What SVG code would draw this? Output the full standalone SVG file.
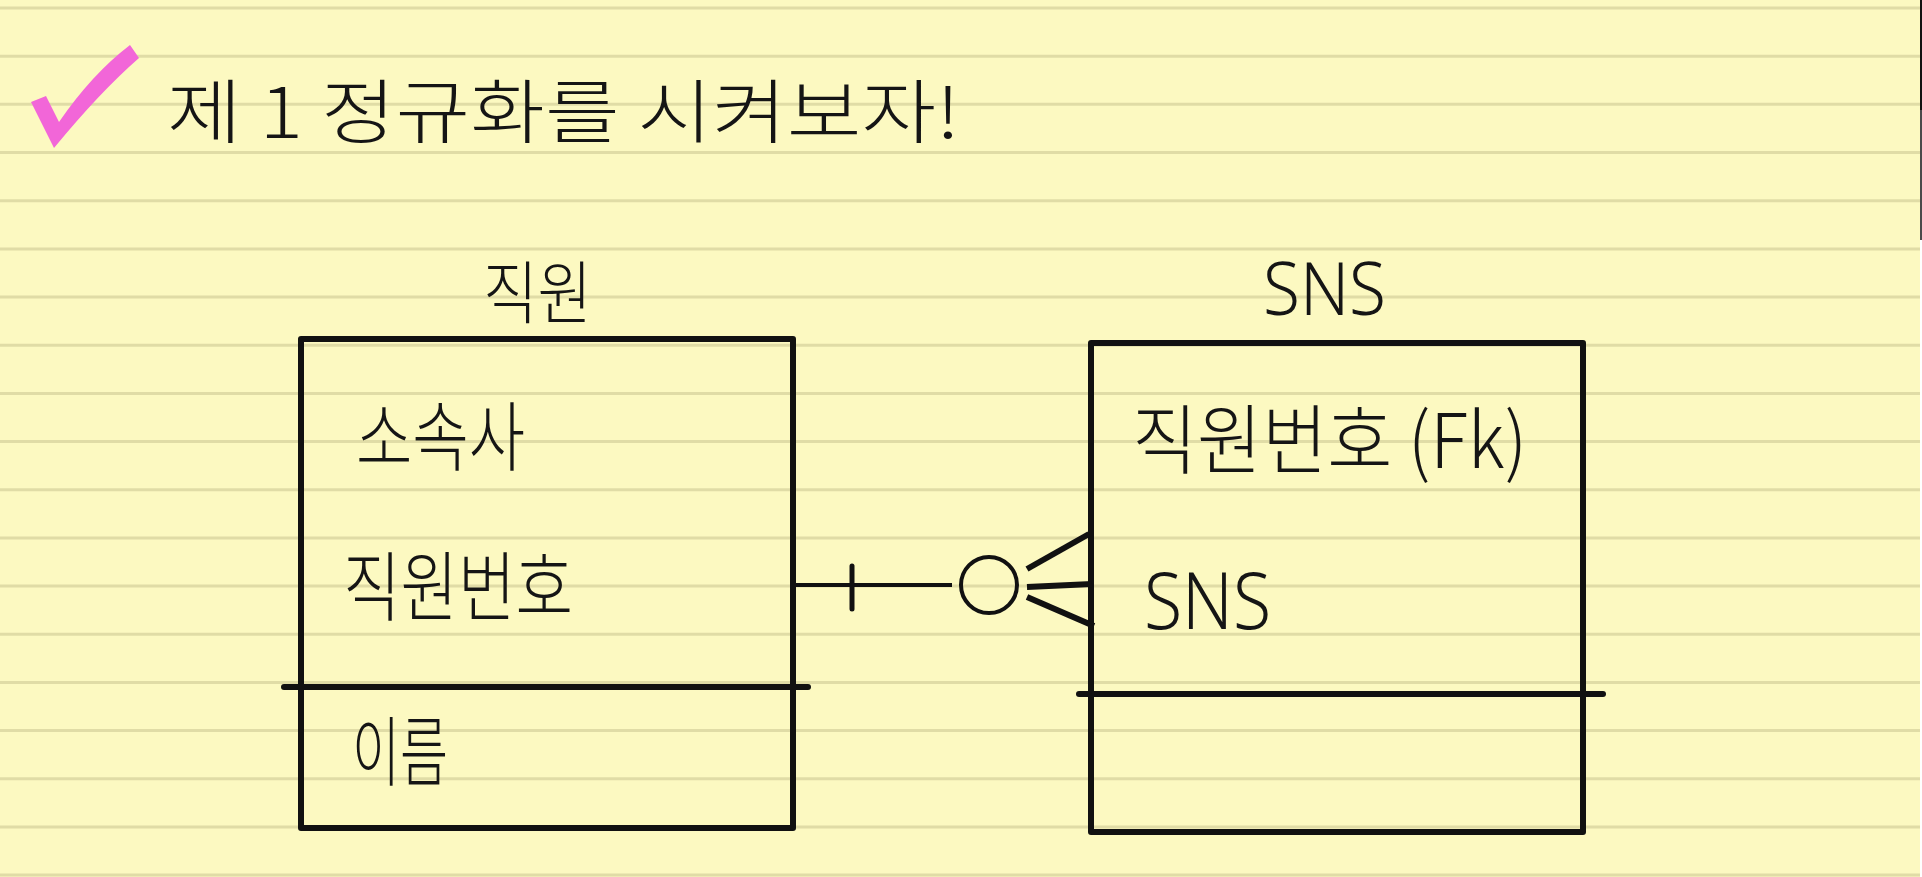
<svg xmlns="http://www.w3.org/2000/svg" width="1922" height="877" viewBox="0 0 1922 877">
<defs>
<style>
.rule{stroke:#e0dca6;stroke-width:3}
.box{fill:none;stroke:#111;stroke-width:6;stroke-linejoin:round}
.div{stroke:#111;stroke-width:6;stroke-linecap:round}
.kr{font-family:"Noto Sans CJK KR","Noto Sans",sans-serif;font-weight:300;fill:#151515}
.en{font-family:"Noto Sans","Liberation Sans",sans-serif;font-weight:300;fill:#151515}
.conn{stroke:#111;fill:none}
</style>
</defs>
<rect x="0" y="0" width="1922" height="877" fill="#ffffff"/>
<rect x="0" y="0" width="1920" height="877" fill="#fcf9c1"/>
<rect x="1920" y="0" width="2" height="110" fill="#111"/>
<rect x="1920" y="110" width="2" height="130" fill="#4a4a4a"/>
<g id="rules">
<line class="rule" x1="0" y1="8" x2="1920" y2="8"/>
<line class="rule" x1="0" y1="56.2" x2="1920" y2="56.2"/>
<line class="rule" x1="0" y1="104.3" x2="1920" y2="104.3"/>
<line class="rule" x1="0" y1="152.5" x2="1920" y2="152.5"/>
<line class="rule" x1="0" y1="200.7" x2="1920" y2="200.7"/>
<line class="rule" x1="0" y1="248.9" x2="1920" y2="248.9"/>
<line class="rule" x1="0" y1="297" x2="1920" y2="297"/>
<line class="rule" x1="0" y1="345.2" x2="1920" y2="345.2"/>
<line class="rule" x1="0" y1="393.4" x2="1920" y2="393.4"/>
<line class="rule" x1="0" y1="441.5" x2="1920" y2="441.5"/>
<line class="rule" x1="0" y1="489.7" x2="1920" y2="489.7"/>
<line class="rule" x1="0" y1="537.9" x2="1920" y2="537.9"/>
<line class="rule" x1="0" y1="586" x2="1920" y2="586"/>
<line class="rule" x1="0" y1="634.2" x2="1920" y2="634.2"/>
<line class="rule" x1="0" y1="682.4" x2="1920" y2="682.4"/>
<line class="rule" x1="0" y1="730.6" x2="1920" y2="730.6"/>
<line class="rule" x1="0" y1="778.7" x2="1920" y2="778.7"/>
<line class="rule" x1="0" y1="826.9" x2="1920" y2="826.9"/>
<line class="rule" x1="0" y1="875" x2="1920" y2="875"/>
</g>
<g id="title">
<path d="M31 102 L46 96 L59 122 Q92 74 130 45 L139 58 Q100 92 54 148 Z" fill="#f266d8"/>
<text class="kr" x="167" y="138" font-size="70" textLength="793" lengthAdjust="spacingAndGlyphs">제 1 정규화를 시켜보자!</text>
</g>
<g id="employee">
<text class="kr" x="483" y="318" font-size="68" textLength="109" lengthAdjust="spacingAndGlyphs">직원</text>
<rect class="box" x="301" y="339" width="492" height="489"/>
<line class="div" x1="284" y1="687" x2="808" y2="687"/>
<text class="kr" x="356" y="465" font-size="76" textLength="169" lengthAdjust="spacingAndGlyphs">소속사</text>
<text class="kr" x="343" y="615" font-size="76" textLength="230" lengthAdjust="spacingAndGlyphs">직원번호</text>
<text class="kr" x="352" y="780" font-size="76" textLength="96" lengthAdjust="spacingAndGlyphs">이름</text>
</g>
<g id="sns">
<text class="en" x="1263" y="315" font-size="74" textLength="123" lengthAdjust="spacingAndGlyphs">SNS</text>
<rect class="box" x="1091" y="343" width="492" height="489"/>
<line class="div" x1="1079" y1="694" x2="1603" y2="694"/>
<text class="kr" x="1132" y="468" font-size="76" textLength="395" lengthAdjust="spacingAndGlyphs">직원번호 (Fk)</text>
<text class="en" x="1144" y="629" font-size="80" textLength="127" lengthAdjust="spacingAndGlyphs">SNS</text>
</g>
<g id="connectors">
<line class="conn" stroke-width="4" x1="793" y1="585" x2="952" y2="585"/>
<line class="conn" stroke-width="5" stroke-linecap="round" x1="852" y1="566" x2="852" y2="609"/>
<circle class="conn" stroke-width="4" cx="989" cy="585" r="28"/>
<line class="conn" stroke-width="6" x1="1027" y1="569" x2="1089" y2="534"/>
<line class="conn" stroke-width="6" x1="1027" y1="587" x2="1092" y2="584"/>
<line class="conn" stroke-width="6" x1="1027" y1="597" x2="1094" y2="626"/>
</g>
</svg>
